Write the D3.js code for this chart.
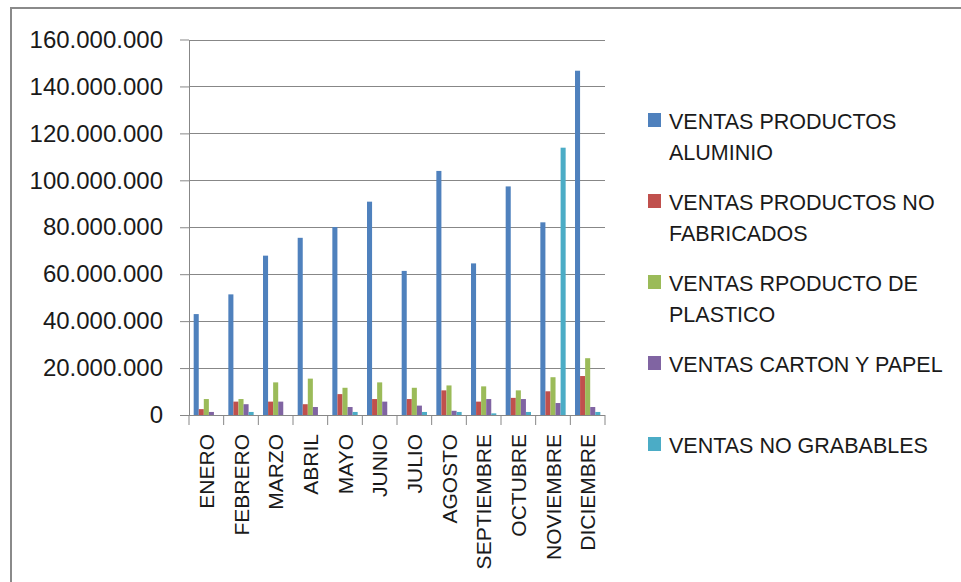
<!DOCTYPE html>
<html><head><meta charset="utf-8">
<script src="https://cdn.jsdelivr.net/npm/d3@7"></script>
<style>html,body{margin:0;padding:0;background:#fff;}svg{display:block;}</style>
</head><body>
<script>
const months = ["ENERO","FEBRERO","MARZO","ABRIL","MAYO","JUNIO","JULIO","AGOSTO","SEPTIEMBRE","OCTUBRE","NOVIEMBRE","DICIEMBRE"];
const seriesNames = ["VENTAS PRODUCTOS ALUMINIO","VENTAS PRODUCTOS NO FABRICADOS","VENTAS RPODUCTO DE PLASTICO","VENTAS CARTON Y PAPEL","VENTAS NO GRABABLES"];
const legendLines = [["VENTAS PRODUCTOS","ALUMINIO"],["VENTAS PRODUCTOS NO","FABRICADOS"],["VENTAS RPODUCTO DE","PLASTICO"],["VENTAS CARTON Y PAPEL"],["VENTAS NO GRABABLES"]];
const aluminio     = [43000000, 51400000, 67900000, 75500000, 80100000, 90900000, 61400000, 104000000, 64600000, 97400000, 82100000, 146700000];
const noFabricados = [2500000, 5700000, 5700000, 4600000, 8900000, 6800000, 6800000, 10500000, 5700000, 7300000, 10100000, 16600000];
const plastico     = [6800000, 6800000, 13900000, 15500000, 11600000, 13900000, 11600000, 12600000, 12200000, 10500000, 16100000, 24200000];
const carton       = [1300000, 4600000, 5700000, 3400000, 3400000, 5700000, 4000000, 1800000, 6800000, 6800000, 5100000, 3400000];
const noGrabables  = [0, 1300000, 0, 0, 1300000, 0, 1300000, 1300000, 700000, 1300000, 113900000, 1300000];
const yTicks = [0, 20000000, 40000000, 60000000, 80000000, 100000000, 120000000, 140000000, 160000000];
const colors = ["#4F81BD","#C0504D","#9BBB59","#8064A2","#4BACC6"];

(function () {
const seriesValues = [aluminio, noFabricados, plastico, carton, noGrabables];
const W = 961, H = 582;
const pLeft = 189, pRight = 605, pTop = 39.5, pBottom = 415;
const font = "'Liberation Sans', Arial, sans-serif";
const gridColor = "#878787";

const svg = d3.select("body").append("svg").attr("width", W).attr("height", H);
svg.append("rect").attr("width", W).attr("height", H).attr("fill", "#fff");
// outer chart frame
svg.append("rect").attr("x", 11).attr("y", 8).attr("width", W + 20).attr("height", H + 20)
  .attr("fill", "none").attr("stroke", "#8a8a8a").attr("stroke-width", 2);

const y = d3.scaleLinear().domain([0, 160000000]).range([pBottom, pTop]);
const x0 = d3.scaleBand().domain(months).range([pLeft, pRight]).paddingInner(0.27).paddingOuter(0.135);
const x1 = d3.scaleBand().domain(d3.range(seriesNames.length)).range([0, x0.bandwidth()]);

// gridlines
svg.append("g").selectAll("line").data(yTicks.slice(1)).join("line")
  .attr("x1", pLeft).attr("x2", pRight).attr("y1", d => Math.round(y(d)) + 0.5).attr("y2", d => Math.round(y(d)) + 0.5)
  .attr("stroke", gridColor).attr("stroke-width", 1);

// bars
const rows = months.map((m, i) => ({m, vals: seriesValues.map(s => s[i])}));
svg.append("g").selectAll("g").data(rows).join("g")
  .attr("transform", d => `translate(${x0(d.m)},0)`)
  .selectAll("rect").data(d => d.vals.map((v, k) => ({v, k}))).join("rect")
  .attr("x", d => x1(d.k)).attr("width", x1.bandwidth())
  .attr("y", d => y(d.v)).attr("height", d => pBottom - y(d.v))
  .attr("fill", d => colors[d.k]);

// y axis
const fmt = d => d3.format(",")(d).replace(/,/g, ".");
const yAxis = svg.append("g").attr("transform", `translate(${pLeft},0)`)
  .call(d3.axisLeft(y).tickValues(yTicks).tickFormat(fmt).tickSizeInner(9).tickSizeOuter(0).tickPadding(17));
yAxis.select(".domain").attr("stroke", gridColor);
yAxis.selectAll(".tick line").attr("stroke", gridColor);
yAxis.selectAll(".tick text").attr("font-family", font).attr("font-size", 24).attr("fill", "#1a1a1a");

// x axis
const xAxis = svg.append("g").attr("transform", `translate(0,${pBottom})`)
  .call(d3.axisBottom(x0).tickSize(0).tickPadding(0));
xAxis.select(".domain").attr("stroke", gridColor).attr("d", `M${pLeft},0.5H${pRight}`);
const bounds = months.map(m => x0(m) - x0.step() * x0.paddingInner() / 2).concat([pRight]);
xAxis.append("g").selectAll("line").data(bounds).join("line")
  .attr("x1", d => d).attr("x2", d => d).attr("y1", 0).attr("y2", 10)
  .attr("stroke", gridColor);
xAxis.selectAll(".tick text")
  .attr("font-family", font).attr("font-size", 21).attr("fill", "#1a1a1a")
  .attr("text-anchor", "end").attr("transform", "rotate(-90)")
  .attr("x", -19).attr("y", 0).attr("dy", "0.36em");

// legend
const lg = svg.append("g");
const itemGap = 81, lineGap = 31, lx = 648, ly = 129;
legendLines.forEach((lines, i) => {
  const by = ly + i * itemGap;
  lg.append("rect").attr("x", lx).attr("y", by - 16).attr("width", 13).attr("height", 14).attr("fill", colors[i]);
  lines.forEach((t, j) => {
    lg.append("text").attr("x", lx + 21).attr("y", by + j * lineGap)
      .attr("font-family", font).attr("font-size", 21.5).attr("fill", "#1a1a1a").text(t);
  });
});
})();
</script>
</body></html>
